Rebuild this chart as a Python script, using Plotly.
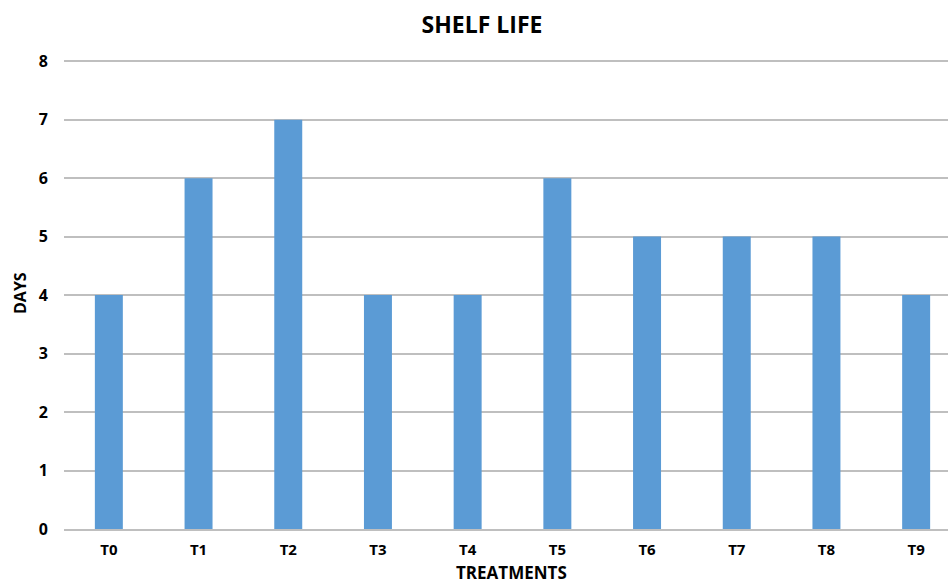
import plotly.graph_objects as go

# Shelf life (days) per treatment
treatments = ["T0", "T1", "T2", "T3", "T4", "T5", "T6", "T7", "T8", "T9"]
shelf_life_days = [4, 6, 7, 4, 4, 6, 5, 5, 5, 4]

font_family = "Open Sans, Liberation Sans, Arial, sans-serif"
grid_color = "#bfbfbf"

fig = go.Figure(
    go.Bar(
        x=treatments,
        y=shelf_life_days,
        marker=dict(color="#5b9bd5", line=dict(width=0)),
    )
)

fig.update_layout(
    width=948,
    height=583,
    margin=dict(l=64, r=0, t=60, b=54),
    paper_bgcolor="white",
    plot_bgcolor="white",
    bargap=0.688,
    showlegend=False,
    font=dict(family=font_family, color="#000000"),
    title=dict(
        text="<b>SHELF LIFE</b>",
        x=482 / 948,
        xref="container",
        xanchor="center",
        y=1 - 25 / 583,
        yref="container",
        yanchor="middle",
        font=dict(size=23, family=font_family, color="#000000"),
    ),
    annotations=[
        dict(
            text="<b>TREATMENTS</b>",
            xref="paper", yref="paper",
            x=(511 - 64) / 884, y=-(572 - 529) / 469,
            xanchor="center", yanchor="middle",
            showarrow=False,
            borderpad=0,
            font=dict(size=17, family=font_family, color="#000000"),
        ),
        dict(
            text="<b>DAYS</b>",
            xref="paper", yref="paper",
            x=-(64 - 20) / 884, y=(529 - 293) / 469,
            xanchor="center", yanchor="middle",
            textangle=-90,
            showarrow=False,
            font=dict(size=16, family=font_family, color="#000000"),
        ),
    ],
)

fig.update_xaxes(
    type="category",
    range=[-0.5, 9.5 - (961 - 948) / 89.7],
    showgrid=False,
    showline=True,
    linecolor=grid_color,
    linewidth=1.5,
    ticks="",
    ticklabelstandoff=6,
    tickfont=dict(size=15, family=font_family, color="#000000", weight="bold"),
)

fig.update_yaxes(
    range=[0, 8.02],
    dtick=1,
    showgrid=True,
    gridcolor=grid_color,
    gridwidth=1.5,
    zeroline=False,
    showline=False,
    ticks="",
    ticklabelstandoff=15,
    tickfont=dict(size=16, family=font_family, color="#000000", weight="bold"),
)

fig.write_html("out.html")
